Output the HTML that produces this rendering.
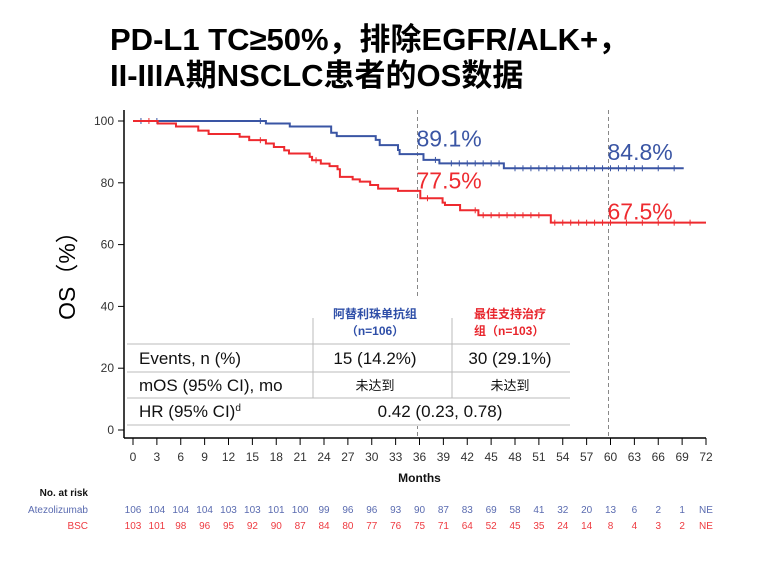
<!DOCTYPE html>
<html><head><meta charset="utf-8"><style>
body{margin:0;background:#fff;width:779px;height:557px;overflow:hidden}
svg text{font-family:"Liberation Sans","Noto Sans CJK SC",sans-serif}
</style></head><body>
<svg id="c" width="779" height="557" xmlns="http://www.w3.org/2000/svg">
<text x="110" y="50" font-size="31" font-weight="bold" fill="#000">PD-L1 TC≥50%，排除EGFR/ALK+，</text>
<text x="110" y="86" font-size="31" font-weight="bold" fill="#000">II-IIIA期NSCLC患者的OS数据</text>
<text transform="translate(75,270) rotate(-90)" text-anchor="middle" font-size="23" fill="#000">OS（%）</text>
<g id="axes"></g>
<g id="curves"></g>
<g id="table">
<rect x="127" y="298" width="445" height="128" fill="#fff"/>
<g stroke="#bbb" stroke-width="1">
<line x1="127" y1="344" x2="570" y2="344"/><line x1="127" y1="372" x2="570" y2="372"/>
<line x1="127" y1="398" x2="570" y2="398"/><line x1="127" y1="425" x2="570" y2="425"/>
<line x1="313" y1="318" x2="313" y2="398"/><line x1="452" y1="318" x2="452" y2="398"/>
</g>
<text x="375" y="318" text-anchor="middle" font-size="12" font-weight="bold" fill="#2f4fa8">阿替利珠单抗组</text>
<text x="375" y="335" text-anchor="middle" font-size="12" font-weight="bold" fill="#2f4fa8">（n=106）</text>
<text x="474" y="318" font-size="12" font-weight="bold" fill="#e8252c">最佳支持治疗</text>
<text x="474" y="335" font-size="12" font-weight="bold" fill="#e8252c">组（n=103）</text>
<text x="139" y="364" font-size="17" fill="#111">Events, n (%)</text>
<text x="375" y="364" text-anchor="middle" font-size="17" fill="#111">15 (14.2%)</text>
<text x="510" y="364" text-anchor="middle" font-size="17" fill="#111">30 (29.1%)</text>
<text x="139" y="391" font-size="17" fill="#111">mOS (95% CI), mo</text>
<text x="375" y="390" text-anchor="middle" font-size="13" fill="#111">未达到</text>
<text x="510" y="390" text-anchor="middle" font-size="13" fill="#111">未达到</text>
<text x="139" y="417" font-size="17" fill="#111">HR (95% CI)<tspan font-size="10" dy="-6">d</tspan></text>
<text x="440" y="417" text-anchor="middle" font-size="17" fill="#111">0.42 (0.23, 0.78)</text>
</g>
<g id="risk"></g>
</svg>
<script>
const xTicks=[0,3,6,9,12,15,18,21,24,27,30,33,36,39,42,45,48,51,54,57,60,63,66,69,72];
const yTicks=[0,20,40,60,80,100];
const blueT=[0,16.7,19.7,24.9,25.6,30.5,31,33.3,33.5,36.5,38.5,46.6,69.2];
const blueS=[100,99.2,98.2,96.2,95.1,93.9,92.2,90.6,89.3,87.4,86.3,84.7,84.7];
const redT=[0,3.1,5.4,8.2,9.5,13.4,14.6,16.7,17.7,19,19.6,22.2,22.5,23.6,24.7,25.7,26,27.6,28.5,29.8,30.8,33.3,36.1,38.9,39.2,41.1,43.4,52.5,72];
const redS=[100,99.2,98.2,96.9,95.8,94.9,93.8,92.7,91.6,90.5,89.5,88.4,87.3,86.2,85.4,84.4,81.9,81.1,80.4,79.3,78.1,77.4,75.0,73.6,72.8,71.1,69.5,67.1,67.1];
const blueCens=[1,3,16,38,40,41,42,43,44,45,46,48,49,50,51,52,53,54,55,56,57,58,59,60,61,62,63,64,66,68];
const redCens=[2,16,23,37,43,44,45,46,47,48,49,50,51,53,54,55,56,57,58,59,60,62,64,66,68,70];
const riskBlue=["106","104","104","104","103","103","101","100","99","96","96","93","90","87","83","69","58","41","32","20","13","6","2","1","NE"];
const riskRed=["103","101","98","96","95","92","90","87","84","80","77","76","75","71","64","52","45","35","24","14","8","4","3","2","NE"];
const landmarks=[36,60];
const labBlue=[["89.1%",36,89.1],["84.8%",60,84.8]];
const labRed=[["77.5%",36,77.5],["67.5%",60,67.5]];
const NS="http://www.w3.org/2000/svg";
const X=m=>133+m*(573/72), Y=v=>430-v*3.09;
function mk(p,t,a){const e=document.createElementNS(NS,t);for(const k in a)e.setAttribute(k,a[k]);p.appendChild(e);return e;}
const ax=document.getElementById('axes'), cv=document.getElementById('curves'), rk=document.getElementById('risk');
landmarks.forEach(m=>{const l=mk(ax,'line',{x1:X(m)-2,x2:X(m)-2,y1:110,y2:438,stroke:'#888','stroke-dasharray':'4,3','stroke-width':1});

});
let a=mk(ax,'line',{x1:124,x2:124,y1:110,y2:438,stroke:'#000','stroke-width':1.5});


a=mk(ax,'line',{x1:124,x2:X(72),y1:438,y2:438,stroke:'#000','stroke-width':1.5});


yTicks.forEach(v=>{mk(ax,'line',{x1:118,x2:124,y1:Y(v),y2:Y(v),stroke:'#000'});
const t=mk(ax,'text',{x:114,y:Y(v)+4,'text-anchor':'end','font-size':12,fill:'#333'});t.textContent=v;

});
xTicks.forEach(m=>{mk(ax,'line',{x1:X(m),x2:X(m),y1:438,y2:445,stroke:'#000'});
const t=mk(ax,'text',{x:X(m),y:461,'text-anchor':'middle','font-size':12,fill:'#333'});t.textContent=m;

});
let t=mk(ax,'text',{x:X(36),y:482,'text-anchor':'middle','font-size':12,'font-weight':'bold',fill:'#111'});t.textContent='Months';


function stepVal(T,S,m){let v=S[0];for(let i=0;i<T.length;i++)if(T[i]<=m)v=S[i];return v;}
function curve(T,S,cens,col,name){let d='M'+X(T[0])+','+Y(S[0]);
for(let i=1;i<T.length;i++){d+=' H'+X(T[i])+' V'+Y(S[i]);}
const p=mk(cv,'path',{d:d,fill:'none',stroke:col,'stroke-width':2});


cens.forEach(m=>{const x=X(m),y=Y(stepVal(T,S,m));mk(cv,'path',{d:`M${x},${y-3}V${y+3}`,stroke:col,'stroke-width':1});});}
curve(blueT,blueS,blueCens,'#3a55a4','atezolizumab');
curve(redT,redS,redCens,'#ee2a2f','bsc');
labBlue.forEach(l=>{const e=mk(cv,'text',{x:X(l[1])-3,y:Y(l[2])-8,'font-size':23,fill:'#3a55a4'});e.textContent=l[0];

});
labRed.forEach(l=>{const e=mk(cv,'text',{x:X(l[1])-3,y:Y(l[2])-2,'font-size':23,fill:'#ee2a2f'});e.textContent=l[0];

});
t=mk(rk,'text',{x:88,y:496,'text-anchor':'end','font-size':10,'font-weight':'bold',fill:'#111'});t.textContent='No. at risk';


t=mk(rk,'text',{x:88,y:513,'text-anchor':'end','font-size':10,fill:'#5a6bb0'});t.textContent='Atezolizumab';


t=mk(rk,'text',{x:88,y:529,'text-anchor':'end','font-size':10,fill:'#ee3a40'});t.textContent='BSC';


xTicks.forEach((m,i)=>{let e=mk(rk,'text',{x:X(m),y:513,'text-anchor':'middle','font-size':10,fill:'#5a6bb0'});e.textContent=riskBlue[i];


e=mk(rk,'text',{x:X(m),y:529,'text-anchor':'middle','font-size':10,fill:'#ee3a40'});e.textContent=riskRed[i];

});
document.getElementById('c').appendChild(document.getElementById('table'));
</script>
</body></html>
